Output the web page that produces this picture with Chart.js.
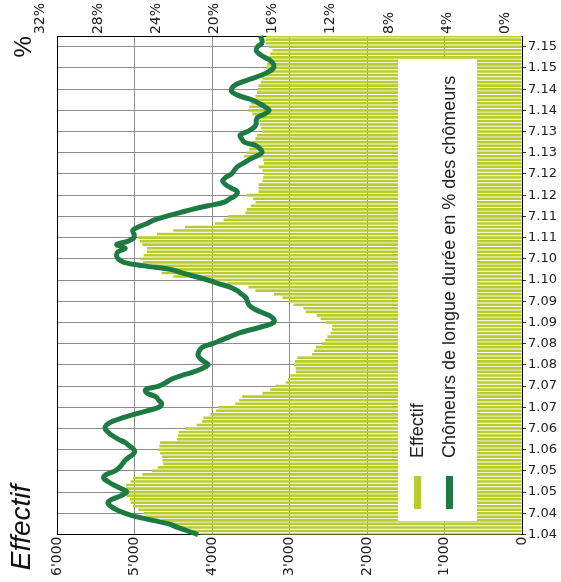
<!DOCTYPE html>
<html>
<head>
<meta charset="utf-8">
<title>Chômeurs de longue durée</title>
<script src="https://cdn.jsdelivr.net/npm/chart.js@4.4.0/dist/chart.umd.min.js"></script>
<style>
    html, body { margin: 0; padding: 0; background: #fff; }
    #wrap { position: relative; width: 561px; height: 582px; }
    #legend {
        position: absolute;
        width: 462px;
        height: 79px;
        box-sizing: border-box;
        padding-top: 3px;
        background: #fff;
        transform-origin: 0 0;
        transform: rotate(-90deg);
        font: 18px 'Liberation Sans', Arial, sans-serif;
        color: #222;
    }
    #legend .row { height: 32px; display: flex; align-items: center; white-space: nowrap; }
    #legend .swatch { display: inline-block; width: 33px; height: 7px; margin-left: 12px; margin-right: 18px; }
</style>
</head>
<body>
<div id="wrap">
    <canvas id="myChart" width="561" height="582"></canvas>
    <div id="legend"></div>
</div>
<script>
// monthly categories, 1.04 (janvier 2004) .. 10.15
const months = [];
for (let yy = 4; yy <= 15; yy++) {
    for (let mm = 1; mm <= 12; mm++) {
        if (yy === 15 && mm > 10) break;
        months.push(mm + '.' + String(yy).padStart(2, '0'));
    }
}

// Effectif (chômeurs de longue durée), one value per month
const effectif = [
    4150, 4250, 4430, 4550, 4650, 4860, 4880, 4950, 5020, 5050,
    5060, 5100, 5110, 5110, 5110, 5050, 5020, 4900, 4780, 4700,
    4630, 4640, 4650, 4670, 4690, 4680, 4670, 4450, 4440, 4430,
    4350, 4200, 4130, 4110, 4020, 3950, 3920, 3700, 3650, 3610,
    3350, 3250, 3180, 3050, 3020, 2990, 2920, 2920, 2940, 2930,
    2900, 2710, 2680, 2660, 2580, 2540, 2510, 2470, 2450, 2450,
    2530, 2600, 2650, 2790, 2820, 2950, 3010, 3090, 3200, 3440,
    3530, 3800, 4050, 4500, 4650, 4650, 4750, 4890, 4930, 4880,
    4840, 4840, 4900, 4930, 4950, 4710, 4500, 4350, 3960, 3850,
    3790, 3570, 3550, 3500, 3440, 3470, 3550, 3400, 3400, 3400,
    3350, 3340, 3330, 3350, 3400, 3330, 3340, 3590, 3560, 3520,
    3460, 3480, 3440, 3420, 3350, 3370, 3380, 3400, 3440, 3480,
    3530, 3520, 3500, 3480, 3440, 3420, 3410, 3400, 3370, 3350,
    3340, 3310, 3300, 3290, 3270, 3260, 3250, 3220, 3270, 3310,
    3310, 3300
];

// Chômeurs de longue durée en % des chômeurs, one value per month
const partPct = [
    22.3, 23.0, 23.7, 24.3, 25.4, 26.5, 27.3, 27.9, 28.3, 28.5,
    28.2, 27.6, 27.2, 27.6, 28.1, 28.5, 28.8, 28.6, 28.0, 27.7,
    27.5, 27.3, 27.0, 26.7, 26.7, 27.0, 27.3, 27.8, 28.2, 28.5,
    28.7, 28.6, 28.2, 27.5, 26.7, 25.8, 25.0, 24.8, 25.0, 25.2,
    25.8, 25.9, 25.0, 24.5, 24.1, 23.4, 22.6, 22.0, 21.6, 21.9,
    22.2, 22.3, 22.2, 22.0, 21.3, 20.7, 20.1, 19.5, 18.6, 17.7,
    17.1, 17.1, 17.4, 18.0, 18.5, 18.8, 18.9, 19.0, 19.3, 19.6,
    20.1, 20.9, 21.6, 22.5, 23.4, 24.2, 26.0, 27.4, 27.8, 27.9,
    27.8, 27.3, 27.9, 27.1, 26.7, 26.7, 26.8, 26.4, 25.8, 25.3,
    24.5, 23.6, 22.7, 21.6, 20.5, 20.1, 19.7, 19.6, 20.0, 20.4,
    20.6, 20.4, 20.0, 19.8, 19.6, 19.2, 18.8, 18.3, 17.9, 18.0,
    18.3, 19.1, 19.3, 19.4, 18.9, 18.5, 18.3, 18.3, 18.2, 17.7,
    17.4, 17.7, 18.1, 18.6, 19.4, 19.9, 20.0, 19.8, 19.3, 18.6,
    17.9, 17.4, 17.1, 17.1, 17.3, 17.7, 18.1, 18.3, 18.2, 17.9,
    17.9, 18.0
];

const effectifTicks = [0, 1000, 2000, 3000, 4000, 5000, 6000];
const pctTicks = [0, 4, 8, 12, 16, 20, 24, 28, 32];

const barColor = '#b7cd2c';
const lineColor = '#1d7a43';
const gridColor = '#8c8c8c';
const titleFont = "'Liberation Sans', Arial, sans-serif";

function swissThousands(v) {
    return String(v).replace(/\B(?=(\d{3})+(?!\d))/g, "'");
}

// legend drawn as html, rotated like the rest of the chart
const htmlLegend = {
    id: 'htmlLegend',
    afterUpdate(chart) {
        const box = document.getElementById('legend');
        const area = chart.chartArea;
        box.style.left = (area.right - 124) + 'px';
        box.style.top = (area.bottom - 14) + 'px';
        box.innerHTML = '';
        const items = chart.options.plugins.legend.labels.generateLabels(chart)
            .sort((a, b) => a.datasetIndex - b.datasetIndex);
        items.forEach(item => {
            const row = document.createElement('div');
            row.className = 'row';
            const sw = document.createElement('span');
            sw.className = 'swatch';
            sw.style.background = item.fillStyle;
            const txt = document.createElement('span');
            txt.textContent = item.text;
            row.append(sw, txt);
            box.appendChild(row);
        });
    }
};

Chart.defaults.font.family = "'DejaVu Sans', sans-serif";
Chart.defaults.color = '#222';

const ctx = document.getElementById('myChart');
const myChart = new Chart(ctx, {
    type: 'bar',
    data: {
        labels: months,
        datasets: [{
            type: 'bar',
            label: 'Effectif',
            data: effectif,
            indexAxis: 'y',
            xAxisID: 'x',
            yAxisID: 'y',
            backgroundColor: barColor,
            borderWidth: 0,
            barPercentage: 0.74,
            categoryPercentage: 1,
            order: 1
        }, {
            type: 'line',
            label: 'Chômeurs de longue durée en % des chômeurs',
            data: partPct,
            indexAxis: 'y',
            xAxisID: 'x2',
            yAxisID: 'y',
            borderColor: lineColor,
            backgroundColor: lineColor,
            borderWidth: 5,
            pointRadius: 0,
            tension: 0.4,
            fill: false,
            order: 0
        }]
    },
    options: {
        indexAxis: 'y',
        responsive: false,
        animation: false,
        layout: { padding: { top: 1, right: 2, bottom: 4, left: 0 } },
        plugins: {
            legend: { display: false },
            tooltip: { enabled: false },
            title: {
                display: true,
                text: ' Effectif',
                position: 'left',
                align: 'start',
                color: '#111',
                font: { family: titleFont, size: 28, style: 'italic', weight: 'normal' },
                padding: { top: 5, bottom: -33.6 }
            },
            subtitle: {
                display: true,
                text: '%',
                position: 'left',
                align: 'end',
                fullSize: false,
                color: '#111',
                font: { family: titleFont, size: 24, weight: 'normal' },
                padding: { top: 4.6, bottom: 18.6 }
            }
        },
        scales: {
            y: {
                type: 'category',
                position: 'right',
                reverse: true,
                offset: false,
                grid: {
                    offset: false,
                    color: c => (c.index % 6 === 0 ? gridColor : 'transparent'),
                    tickColor: c => (c.index % 6 === 0 ? '#333' : 'transparent'),
                    tickLength: 4
                },
                border: { color: '#000' },
                ticks: {
                    autoSkip: false,
                    padding: 2,
                    font: { size: 13 },
                    callback: function (value, index) {
                        return index % 6 === 0 ? this.getLabelForValue(value) : '';
                    }
                }
            },
            x: {
                type: 'linear',
                position: 'bottom',
                reverse: true,
                min: effectifTicks[0],
                max: effectifTicks[effectifTicks.length - 1],
                afterBuildTicks: axis => { axis.ticks = effectifTicks.map(v => ({ value: v })); },
                ticks: {
                    minRotation: 90,
                    maxRotation: 90,
                    padding: 2,
                    font: { size: 14 },
                    callback: v => swissThousands(v)
                },
                grid: {
                    drawTicks: false,
                    color: c => (c.tick && c.tick.value === 6000 ? '#000' : gridColor)
                },
                border: { color: '#000' }
            },
            x2: {
                type: 'linear',
                position: 'top',
                reverse: true,
                min: pctTicks[0],
                max: pctTicks[pctTicks.length - 1],
                afterBuildTicks: axis => { axis.ticks = pctTicks.map(v => ({ value: v })); },
                ticks: {
                    minRotation: 90,
                    maxRotation: 90,
                    padding: 2,
                    font: { size: 14 },
                    callback: v => v + '%'
                },
                grid: { display: false, drawTicks: false },
                border: { color: '#000' }
            }
        }
    },
    plugins: [htmlLegend]
});
</script>
</body>
</html>
